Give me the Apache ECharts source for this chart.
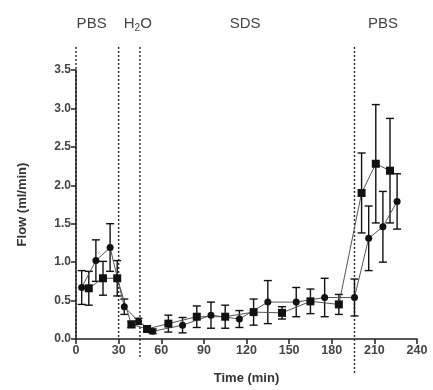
<!DOCTYPE html>
<html><head><meta charset="utf-8">
<script src="https://cdn.jsdelivr.net/npm/echarts@6/dist/echarts.min.js"></script>
<style>html,body{margin:0;padding:0;background:#fff}#c{width:433px;height:390px}</style>
</head><body><div id="c"></div>
<script>
// Square-marker series
const squareTime = [9, 19, 29, 39, 50, 65, 85, 105, 125, 145, 165, 185, 201, 211, 221];
const squareFlow = [0.66, 0.79, 0.79, 0.19, 0.13, 0.20, 0.29, 0.29, 0.35, 0.34, 0.49, 0.45, 1.90, 2.28, 2.19];
const squareErr  = [0.22, 0.22, 0.23, 0.04, 0.03, 0.11, 0.14, 0.15, 0.17, 0.08, 0.16, 0.13, 0.52, 0.77, 0.68];
// Circle-marker series
const circleTime = [4, 14, 24, 34, 44, 54, 75, 95, 115, 135, 155, 175, 196, 206, 216, 226];
const circleFlow = [0.67, 1.02, 1.19, 0.42, 0.23, 0.10, 0.18, 0.31, 0.26, 0.48, 0.48, 0.54, 0.54, 1.31, 1.46, 1.79];
const circleErr  = [0.22, 0.27, 0.31, 0.10, 0.04, 0.03, 0.10, 0.17, 0.11, 0.28, 0.19, 0.25, 0.24, 0.42, 0.46, 0.36];
// Phase annotations
const phaseLineTimes = [0, 30, 45, 196];
const phaseLabels = ['PBS', 'H{sub|2}O', 'SDS', 'PBS'];
const phaseLabelTimes = [11, 43.5, 119, 216];
// Axis ticks
const xMin = 0, xMax = 240, xStep = 30;
const yMin = 0, yMax = 3.5, yStep = 0.5;

const lineTop = 3.8;
const lineBottoms = [0, 0, -0.26, -0.45];
const labelLevel = 4.1;

const chart = echarts.init(document.getElementById('c'));
const FONT = 'Liberation Sans, Arial, sans-serif';

function errSeries(times, vals, errs) {
  return {
    type: 'custom', silent: true, z: 3,
    data: times.map((t, i) => [t, vals[i] - errs[i], vals[i] + errs[i]]),
    encode: { x: 0, y: [1, 2] },
    renderItem: (params, api) => {
      const lo = api.coord([api.value(0), api.value(1)]);
      const hi = api.coord([api.value(0), api.value(2)]);
      const w = 4;
      const st = { stroke: '#111', lineWidth: 1.4 };
      return { type: 'group', children: [
        { type: 'line', shape: { x1: lo[0], y1: lo[1], x2: hi[0], y2: hi[1] }, style: st },
        { type: 'line', shape: { x1: hi[0] - w, y1: hi[1], x2: hi[0] + w, y2: hi[1] }, style: st },
        { type: 'line', shape: { x1: lo[0] - w, y1: lo[1], x2: lo[0] + w, y2: lo[1] }, style: st }
      ]};
    }
  };
}

function lineSeries(times, vals, sym, size) {
  return {
    type: 'line', z: 4,
    data: times.map((t, i) => [t, vals[i]]),
    symbol: sym, symbolSize: size, showSymbol: true,
    itemStyle: { color: '#111' },
    lineStyle: { color: '#555', width: 1 },
    emphasis: { disabled: true }
  };
}

chart.setOption({
  animation: false,
  backgroundColor: '#fff',
  grid: { left: 76, right: 16, top: 70, bottom: 48 },
  xAxis: {
    type: 'value', min: xMin, max: xMax, interval: xStep,
    name: 'Time (min)', nameLocation: 'middle', nameGap: 33,
    nameTextStyle: { fontFamily: FONT, fontWeight: 'bold', fontSize: 13, color: '#333' },
    axisLine: { lineStyle: { color: '#222', width: 1.5 } },
    axisTick: { length: 5, lineStyle: { color: '#222', width: 1.5 } },
    axisLabel: { fontFamily: FONT, fontWeight: 'bold', fontSize: 12.5, color: '#444', margin: 5 },
    splitLine: { show: false }
  },
  yAxis: {
    type: 'value', min: yMin, max: yMax, interval: yStep,
    name: 'Flow (ml/min)', nameLocation: 'middle', nameGap: 47, nameRotate: 90,
    nameTextStyle: { fontFamily: FONT, fontWeight: 'bold', fontSize: 13, color: '#333' },
    axisLine: { show: true, lineStyle: { color: '#222', width: 1.5 } },
    axisTick: { show: true, length: 5, lineStyle: { color: '#222', width: 1.5 } },
    axisLabel: { fontFamily: FONT, fontWeight: 'bold', fontSize: 12, color: '#444', margin: 5,
      formatter: v => v.toFixed(1) },
    splitLine: { show: false }
  },
  series: [
    {
      type: 'custom', silent: true, z: 1, clip: false,
      data: phaseLineTimes.map((t, i) => [t, i]),
      renderItem: (params, api) => {
        const i = api.value(1);
        const a = api.coord([api.value(0), lineTop]);
        const b = api.coord([api.value(0), lineBottoms[i]]);
        return { type: 'line', shape: { x1: a[0], y1: a[1], x2: b[0], y2: b[1] },
          style: { stroke: '#222', lineWidth: 1.4, lineDash: [2, 2] } };
      }
    },
    {
      type: 'custom', silent: true, z: 1, clip: false,
      data: phaseLabelTimes.map((t, i) => [t, i]),
      renderItem: (params, api) => {
        const i = api.value(1);
        const p = api.coord([api.value(0), labelLevel]);
        return { type: 'text', x: p[0], y: p[1],
          style: { text: phaseLabels[i], fill: '#444', font: '15px ' + FONT,
            textAlign: 'center', textVerticalAlign: 'middle',
            rich: { sub: { fontSize: 10, fill: '#444', fontFamily: FONT, padding: [9, 0, 0, 0] } } } };
      }
    },
    errSeries(squareTime, squareFlow, squareErr),
    errSeries(circleTime, circleFlow, circleErr),
    lineSeries(squareTime, squareFlow, 'rect', 8),
    lineSeries(circleTime, circleFlow, 'circle', 7)
  ]
});
</script>
</body></html>
